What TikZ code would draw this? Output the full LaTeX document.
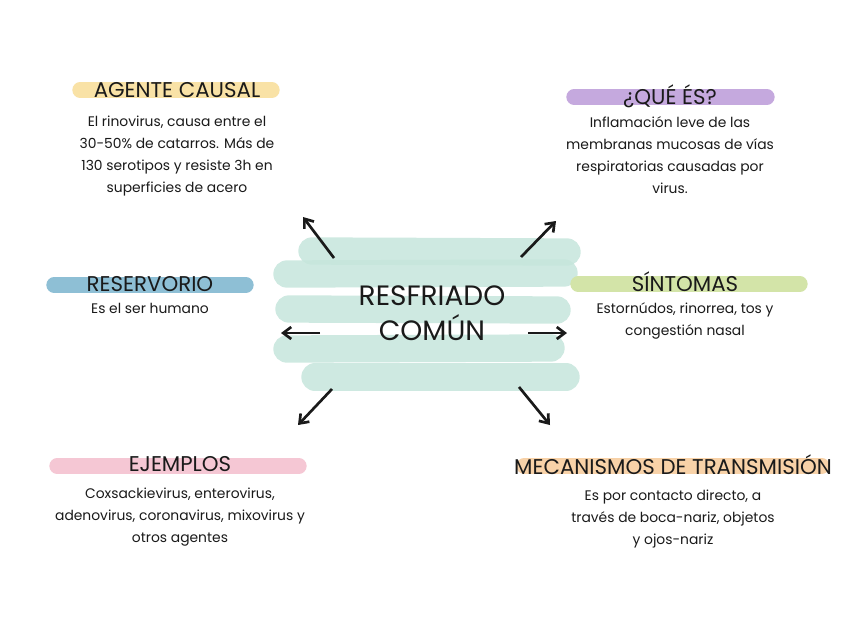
\documentclass[tikz,border=0pt]{standalone}
\usepackage{fontspec}
\setmainfont{Poppins}
\usetikzlibrary{arrows.meta,positioning}
\definecolor{MintBrush}{HTML}{C6E6DC}
\definecolor{CausalYellow}{HTML}{F9E2A6}
\definecolor{QueLilac}{HTML}{C5A9DE}
\definecolor{ReservBlue}{HTML}{8EBFD5}
\definecolor{SintGreen}{HTML}{D3E4A8}
\definecolor{EjemPink}{HTML}{F5C7D4}
\definecolor{MecPeach}{HTML}{F8D2A8}
\definecolor{InkBlack}{HTML}{1A1A1A}
\tikzset{
  brush/.style={line width=20.5pt, line cap=round, MintBrush, opacity=0.85},
  hlbar/.style={line width=11.5pt, line cap=round},
  heading/.style={font=\fontsize{16}{18}\selectfont, text=InkBlack, inner sep=1pt},
  bodytext/.style={font=\fontsize{10.4}{16.5}\selectfont, text=InkBlack, align=center, inner sep=1pt},
  pointer/.style={-{Straight Barb[length=6pt,width=9pt]}, line width=2pt, InkBlack}
}
\begin{document}
\begin{tikzpicture}[x=0.75pt, y=-0.75pt]
  \useasboundingbox[fill=white] (0,0) rectangle (848,636);

  % central brush strokes
  \draw[brush] (312,251) -- (567,252);
  \draw[brush] (287,274) -- (564,273);
  \draw[brush] (289,309) -- (557,310);
  \draw[brush] (287,349) -- (551,348);
  \draw[brush] (315,377) -- (566,377);
  \node[font=\fontsize{21}{26}\selectfont, align=center, text=InkBlack] (cold) at (432,313)
    {RESFRIADO\\COMÚN};

  % highlight bars
  \draw[hlbar, CausalYellow] (80,90) -- (272,90);
  \draw[hlbar, QueLilac] (574,97) -- (767,97);
  \draw[hlbar, ReservBlue] (54,285) -- (246,285);
  \draw[hlbar, SintGreen] (578,284) -- (800,284);
  \draw[hlbar, EjemPink] (57,466) -- (299,466);
  \draw[hlbar, MecPeach] (524,466) -- (822,466);

  \node[heading] (causal) at (177,90) {AGENTE CAUSAL};
  \node[bodytext, below=3.9mm of causal] (causaltxt)
    {El rinovirus, causa entre el\\30-50\% de catarros. Más de\\130 serotipos y resiste 3h en\\superficies de acero};

  \node[heading] (que) at (670,96) {¿QUÉ ÉS?};
  \node[bodytext, below=1.5mm of que] (quetxt)
    {Inflamación leve de las\\membranas mucosas de vías\\respiratorias causadas por\\virus.};

  \node[heading] (reserv) at (150,284) {RESERVORIO};
  \node[bodytext, below=2.2mm of reserv] (reservtxt) {Es el ser humano};

  \node[heading] (sint) at (685,282) {SÍNTOMAS};
  \node[bodytext, below=2.1mm of sint] (sinttxt)
    {Estornúdos, rinorrea, tos y\\congestión nasal};

  \node[heading] (ejem) at (180,464) {EJEMPLOS};
  \node[bodytext, below=3.5mm of ejem] (ejemtxt)
    {Coxsackievirus, enterovirus,\\adenovirus, coronavirus, mixovirus y\\otros agentes};

  \node[heading] (mec) at (673,465) {MECANISMOS DE TRANSMISIÓN};
  \node[bodytext, below=3mm of mec] (mectxt)
    {Es por contacto directo, a\\través de boca-nariz, objetos\\y ojos-nariz};

  % arrows out of the centre
  \coordinate (nwA) at (334,258); \coordinate (nwB) at (303,217);
  \coordinate (neA) at (521,257); \coordinate (neB) at (556,221);
  \coordinate (wA) at (320,333);  \coordinate (wB) at (281,333);
  \coordinate (eA) at (528,333);  \coordinate (eB) at (567,333);
  \coordinate (swA) at (332,389); \coordinate (swB) at (298,425);
  \coordinate (seA) at (519,387); \coordinate (seB) at (550,425);
  \draw[pointer] (nwA) -- (nwB);
  \draw[pointer] (neA) -- (neB);
  \draw[pointer] (wA) -- (wB);
  \draw[pointer] (eA) -- (eB);
  \draw[pointer] (swA) -- (swB);
  \draw[pointer] (seA) -- (seB);
\end{tikzpicture}
\end{document}
